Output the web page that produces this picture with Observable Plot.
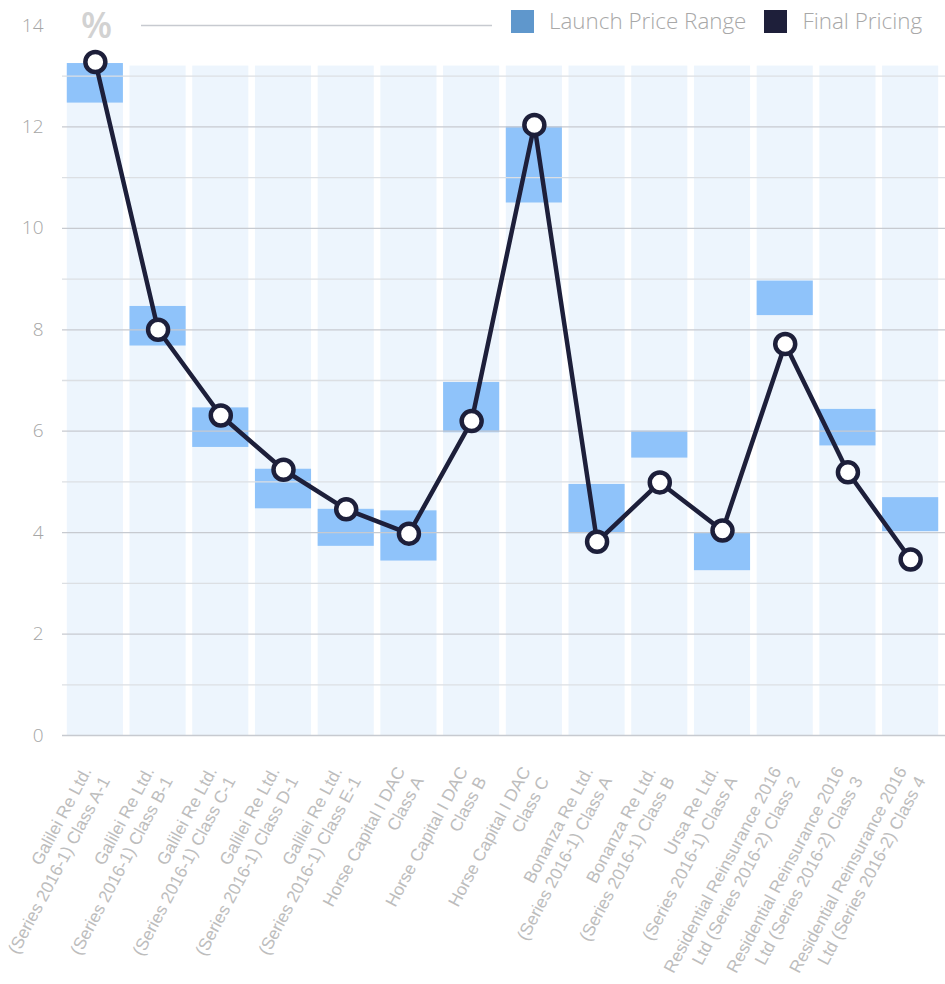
<!DOCTYPE html>
<html><head><meta charset="utf-8">
<script src="https://cdn.jsdelivr.net/npm/d3@7"></script>
<script src="https://cdn.jsdelivr.net/npm/@observablehq/plot@0.6"></script>
<style>
body{margin:0;background:#fff;font-family:"Open Sans",sans-serif;}
#wrap{position:relative;width:945px;height:984px;}
#pct{position:absolute;left:81px;top:7px;font-size:36px;font-weight:600;color:#d2d2d2;line-height:1;}
#legend{position:absolute;left:511px;top:8px;display:flex;align-items:center;font-size:22.4px;font-weight:300;color:#a8a8a8;white-space:nowrap;line-height:1.2;}
.sw{display:inline-block;width:23px;height:23px;margin-right:15px;}
.item{display:flex;align-items:center;margin-right:18px;}
</style></head>
<body><div id="wrap">
<div id="pct">%</div>
<div id="legend">
  <div class="item"><span class="sw" style="background:#5f97cc"></span>Launch Price Range</div>
  <div class="item"><span class="sw" style="background:#1e1f3a"></span>Final Pricing</div>
</div>
</div>
<script>
const categories = [
  "Galilei Re Ltd.\n(Series 2016-1) Class A-1",
  "Galilei Re Ltd.\n(Series 2016-1) Class B-1",
  "Galilei Re Ltd.\n(Series 2016-1) Class C-1",
  "Galilei Re Ltd.\n(Series 2016-1) Class D-1",
  "Galilei Re Ltd.\n(Series 2016-1) Class E-1",
  "Horse Capital I DAC\nClass A",
  "Horse Capital I DAC\nClass B",
  "Horse Capital I DAC\nClass C",
  "Bonanza Re Ltd.\n(Series 2016-1) Class A",
  "Bonanza Re Ltd.\n(Series 2016-1) Class B",
  "Ursa Re Ltd.\n(Series 2016-1) Class A",
  "Residential Reinsurance 2016\nLtd (Series 2016-2) Class 2",
  "Residential Reinsurance 2016\nLtd (Series 2016-2) Class 3",
  "Residential Reinsurance 2016\nLtd (Series 2016-2) Class 4"
];
const launchLow  = [12.47, 7.68, 5.68, 4.47, 3.73, 3.44, 5.97, 10.5, 3.98, 5.47, 3.25, 8.28, 5.71, 4.02];
const launchHigh = [13.25, 8.46, 6.46, 5.25, 4.46, 4.43, 6.96, 12.0, 4.95, 6.0, 3.99, 8.96, 6.43, 4.69];
const finalPricing = [13.28, 8.0, 6.31, 5.24, 4.46, 3.98, 6.2, 12.04, 3.82, 4.99, 4.04, 7.72, 5.19, 3.47];
const backgroundTop = 13.2;
const yTicks = [0, 2, 4, 6, 8, 10, 12, 14];
const gridMajor = [0, 2, 4, 6, 8, 10, 12];
const gridMinor = [1, 3, 5, 7, 9, 11, 13];

const rows = categories.map((c, i) => ({cat: c, low: launchLow[i], high: launchHigh[i], final: finalPricing[i], bg: backgroundTop}));

const chart = Plot.plot({
  width: 945,
  height: 984,
  marginLeft: 62,
  marginRight: 0,
  marginTop: 25,
  marginBottom: 249,
  style: {fontFamily: "Open Sans, sans-serif", background: "transparent", overflow: "visible"},
  x: {type: "band", domain: categories, range: [63.5, 941.5], padding: 0, round: false},
  y: {domain: [0, 14]},
  marks: [
    Plot.barY(rows, {x: "cat", y1: 0, y2: "bg", fill: "#edf5fd", insetLeft: 3.3, insetRight: 3.3}),
    Plot.barY(rows, {x: "cat", y1: "low", y2: "high", fill: "#8fc3fa", insetLeft: 3.3, insetRight: 3.3}),
    Plot.ruleY(gridMinor, {stroke: "#dcdfe3", strokeWidth: 1.3}),
    Plot.ruleY(gridMajor, {stroke: "#c7cad0", strokeWidth: 1.3}),
    Plot.ruleY([14], {stroke: "#c7cad0", strokeWidth: 1.3, insetLeft: 79, insetRight: 453}),
    Plot.axisY({ticks: yTicks, tickSize: 0, tickPadding: 19, fontSize: 19, color: "#a6a6a6", label: null, fontWeight: 300}),
    Plot.axisX({tickSize: 0, tickRotate: -62, tickPadding: 37, fontSize: 17.3, lineHeight: 1.22, color: "#bdbdbd", label: null, fontFamily: "Liberation Sans, Arial, sans-serif"}),
    Plot.line(rows, {x: "cat", y: "final", stroke: "#1d1f3a", strokeWidth: 4.5, curve: "linear"}),
    Plot.dot(rows, {x: "cat", y: "final", r: 10, fill: "#fff", stroke: "#1d1f3a", strokeWidth: 4.5})
  ]
});
chart.style.position = "absolute";
chart.style.left = "0";
chart.style.top = "0";
const wrap = document.getElementById("wrap");
wrap.insertBefore(chart, wrap.firstChild);
</script>
</body></html>
